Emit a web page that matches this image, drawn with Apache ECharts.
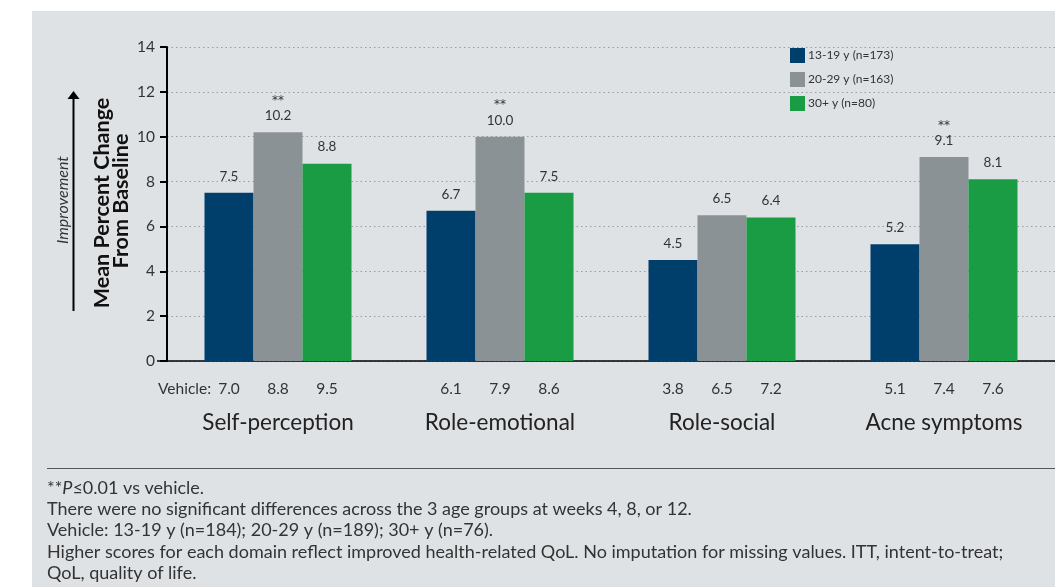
<!DOCTYPE html>
<html><head><meta charset="utf-8">
<script src="https://cdn.jsdelivr.net/npm/echarts@6/dist/echarts.min.js"></script>
<style>html,body{margin:0;padding:0;background:#fff}#c{width:1055px;height:587px}</style>
</head><body><div id="c"></div>
<script>
const categories = ['Self-perception', 'Role-emotional', 'Role-social', 'Acne symptoms'];
const seriesNames = ['13-19 y (n=173)', '20-29 y (n=163)', '30+ y (n=80)'];
const teen = [7.5, 6.7, 4.5, 5.2];
const twenties = [10.2, 10.0, 6.5, 9.1];
const thirtyPlus = [8.8, 7.5, 6.4, 8.1];
const stars = ['**', '**', '', '**'];
const vehicle13 = [7.0, 6.1, 3.8, 5.1];
const vehicle20 = [8.8, 7.9, 6.5, 7.4];
const vehicle30 = [9.5, 8.6, 7.2, 7.6];
const yTicks = [0, 2, 4, 6, 8, 10, 12, 14];
const footnotes = [
  'There were no significant differences across the 3 age groups at weeks 4, 8, or 12.',
  'Vehicle: 13-19 y (n=184); 20-29 y (n=189); 30+ y (n=76).',
  'Higher scores for each domain reflect improved health-related QoL. No imputation for missing values. ITT, intent-to-treat;',
  'QoL, quality of life.'
];

const FONT = 'Lato, "Noto Sans", sans-serif';
const TXT = '#333';
const colors = ['#003e6c', '#8b9295', '#1a9c45'];

const chart = echarts.init(document.getElementById('c'));

function barLabel(withStars) {
  return {
    show: true, position: 'top', distance: 9, color: TXT, fontFamily: FONT, fontSize: 13.5,
    formatter: p => {
      const v = '{v|' + Number(p.value).toFixed(1) + '}';
      return (withStars && stars[p.dataIndex]) ? '{s|' + stars[p.dataIndex] + '}\n' + v : v;
    },
    rich: {
      v: { fontFamily: FONT, fontSize: 13.5, color: TXT, lineHeight: 15 },
      s: { fontFamily: '"DejaVu Sans", sans-serif', fontSize: 12, color: TXT, lineHeight: 19, padding: [4, 0, 0, 0] }
    }
  };
}

const vehicleLabels = categories.map((c, i) =>
  '{v|' + vehicle13[i].toFixed(1) + '}{v|' + vehicle20[i].toFixed(1) + '}{v|' + vehicle30[i].toFixed(1) + '}');

const footY = [509, 530, 552, 573];
const graphics = [
  { type: 'rect', shape: { x: 0, y: 0, width: 1055, height: 11 }, style: { fill: '#fff' }, silent: true },
  { type: 'rect', shape: { x: 0, y: 0, width: 32, height: 587 }, style: { fill: '#fff' }, silent: true },
  { type: 'line', shape: { x1: 157, y1: 361, x2: 168, y2: 361 }, style: { stroke: '#000', lineWidth: 1.5 } },
  { type: 'line', shape: { x1: 47, y1: 468.5, x2: 1055, y2: 468.5 }, style: { stroke: '#555', lineWidth: 1 } },
  { type: 'line', shape: { x1: 73.5, y1: 97, x2: 73.5, y2: 311 }, style: { stroke: '#000', lineWidth: 2 } },
  { type: 'polygon', shape: { points: [[67.5, 99], [79.5, 99], [73.5, 91]] }, style: { fill: '#000' } },
  { type: 'text', x: 63, y: 200, rotation: Math.PI / 2,
    style: { text: 'Improvement', fontFamily: FONT, fontStyle: 'italic', fontSize: 16, fill: TXT, align: 'center', verticalAlign: 'middle' } },
  { type: 'text', x: 102, y: 203, rotation: Math.PI / 2,
    style: { text: 'Mean Percent Change', fontFamily: FONT, fontWeight: 'bold', fontSize: 21.5, fill: '#111', align: 'center', verticalAlign: 'middle' } },
  { type: 'text', x: 121.5, y: 201, rotation: Math.PI / 2,
    style: { text: 'From Baseline', fontFamily: FONT, fontWeight: 'bold', fontSize: 21.5, fill: '#111', align: 'center', verticalAlign: 'middle' } },
  { type: 'text', x: 158, y: 389,
    style: { text: 'Vehicle:', fontFamily: FONT, fontSize: 15.5, fill: TXT, align: 'left', verticalAlign: 'middle' } },
  { type: 'text', x: 47, y: 488,
    style: { text: '**{i|P}≤0.01 vs vehicle.', fontFamily: FONT, fontSize: 18, fill: TXT, verticalAlign: 'middle',
      rich: { i: { fontFamily: FONT, fontSize: 18, fontStyle: 'italic', fill: TXT } } } }
];
footnotes.forEach((t, i) => graphics.push({ type: 'text', x: 47, y: footY[i],
  style: { text: t, fontFamily: FONT, fontSize: 18, fill: TXT, verticalAlign: 'middle' } }));

chart.setOption({
  backgroundColor: '#dfe2e5',
  animation: false,
  textStyle: { fontFamily: FONT },
  legend: {
    orient: 'vertical', left: 785, top: 43, itemWidth: 15, itemHeight: 15, itemGap: 9,
    icon: 'rect', data: seriesNames,
    textStyle: { fontFamily: FONT, fontSize: 12, color: TXT, padding: [0, 0, 0, -2] }
  },
  grid: { left: 167, top: 47, width: 896, height: 314, containLabel: false },
  xAxis: [
    { type: 'category', data: categories, position: 'bottom',
      axisLine: { show: true, lineStyle: { color: '#000', width: 1.5 } },
      axisTick: { show: false },
      axisLabel: { margin: 50, fontFamily: FONT, fontSize: 22.5, color: '#222' } },
    { type: 'category', data: vehicleLabels, position: 'bottom',
      axisLine: { show: false }, axisTick: { show: false },
      axisLabel: { margin: 20, formatter: v => v,
        rich: { v: { width: 49, align: 'center', fontFamily: FONT, fontSize: 15.5, color: TXT } } } }
  ],
  yAxis: {
    type: 'value', min: yTicks[0], max: yTicks[yTicks.length - 1], interval: 2,
    axisLine: { show: true, lineStyle: { color: '#000', width: 2 } },
    axisTick: { show: true, length: 7, lineStyle: { color: '#000', width: 2 } },
    axisLabel: { margin: 12, fontFamily: FONT, fontSize: 15.5, color: TXT },
    splitLine: { show: true, lineStyle: { color: '#9a9ea2', type: [1.5, 3], width: 1 } }
  },
  series: [
    { name: seriesNames[0], type: 'bar', data: teen, barWidth: 49, barGap: '0%', itemStyle: { color: colors[0] }, label: barLabel(false) },
    { name: seriesNames[1], type: 'bar', data: twenties, barWidth: 49, barGap: '0%', itemStyle: { color: colors[1] }, label: barLabel(true) },
    { name: seriesNames[2], type: 'bar', data: thirtyPlus, barWidth: 49, barGap: '0%', itemStyle: { color: colors[2] }, label: barLabel(false) }
  ],
  graphic: graphics
});
</script></body></html>
